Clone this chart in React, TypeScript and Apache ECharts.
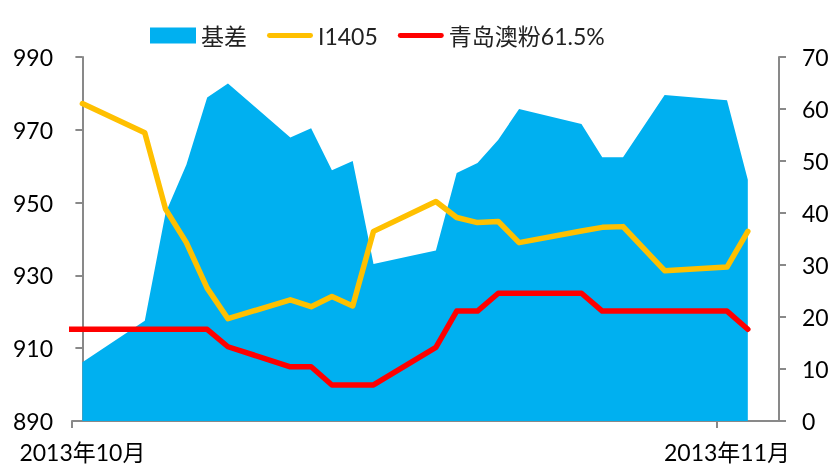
import React, { useEffect, useRef } from "react";
import * as echarts from "echarts";

// ---- data ----
const baseDate = "2013-10-18";
const dates = [
  "2013-10-18", "2013-10-21", "2013-10-22", "2013-10-23", "2013-10-24", "2013-10-25",
  "2013-10-28", "2013-10-29", "2013-10-30", "2013-10-31", "2013-11-01",
  "2013-11-04", "2013-11-05", "2013-11-06", "2013-11-07", "2013-11-08",
  "2013-11-11", "2013-11-12", "2013-11-13", "2013-11-15",
  "2013-11-18", "2013-11-19",
];
const basis = [
  11.3, 19.3, 40.0, 49.3, 62.2, 64.9,
  54.5, 56.3, 48.2, 50.0, 30.2,
  32.8, 47.7, 49.6, 54.1, 60.0,
  57.1, 50.7, 50.7, 62.7,
  61.7, 46.4,
];
const i1405 = [
  977.2, 969.2, 948.2, 939.0, 926.5, 918.1,
  923.3, 921.4, 924.2, 921.6, 942.1,
  950.3, 945.9, 944.5, 944.8, 939.0,
  942.2, 943.2, 943.4, 931.3,
  932.3, 942.1,
];
const spotDates = ["2013-10-17", ...dates];
const qingdao = [
  915.2,
  915.2, 915.2, 915.2, 915.2, 915.2, 910.4,
  904.9, 904.9, 899.9, 899.9, 899.9,
  910.2, 920.2, 920.2, 925.1, 925.1,
  925.1, 920.2, 920.2, 920.2,
  920.2, 915.2,
];
const seriesNames = ["基差", "I1405", "青岛澳粉61.5%"];
const xLabelDates = ["2013-10-18", "2013-11-18"];
const xLabels = ["2013年10月", "2013年11月"];
const leftTicks = [890, 910, 930, 950, 970, 990];

function dayIndex(s: string): number {
  const [y, m, d] = s.split("-").map(Number);
  const [by, bm, bd] = baseDate.split("-").map(Number);
  return Math.round((Date.UTC(y, m - 1, d) - Date.UTC(by, bm - 1, bd)) / 86400000);
}

const FONT = 'Lato, "Noto Sans CJK SC", sans-serif';
const AXIS_COLOR = "#898989";
const FS = 23;

export default function App() {
  const ref = useRef<HTMLDivElement>(null);
  useEffect(() => {
    if (!ref.current) return;
    const chart = echarts.init(ref.current, null, { renderer: "svg" });
    const labelDays = xLabelDates.map(dayIndex);
    const tickDays = labelDays.map((d) => d - 0.5);
    const lineIcon =
      "path://M2.5,0H45.5A2.5,2.5,0,0,1,45.5,5H2.5A2.5,2.5,0,0,1,2.5,0Z";
    chart.setOption({
      animation: false,
      textStyle: { fontFamily: FONT },
      legend: {
        left: 145,
        top: 19,
        itemWidth: 46,
        itemHeight: 16,
        itemGap: 20,
        textStyle: { fontSize: FS, color: "#222", fontFamily: FONT },
        data: [
          { name: seriesNames[0], icon: "rect" },
          { name: seriesNames[1], icon: lineIcon },
          { name: seriesNames[2], icon: lineIcon },
        ],
      },
      grid: { left: 72, right: 53, top: 57, bottom: 47, outerBoundsMode: "none" },
      xAxis: {
        type: "value",
        min: -0.5,
        max: 33.5,
        splitLine: { show: false },
        axisLine: { show: true, lineStyle: { color: AXIS_COLOR, width: 2 } },
        axisTick: {
          show: true,
          length: 7,
          customValues: tickDays,
          lineStyle: { color: AXIS_COLOR, width: 2 },
        },
        axisLabel: {
          customValues: labelDays,
          margin: 19,
          fontSize: FS,
          color: "#000",
          fontFamily: FONT,
          formatter: (v: number) => {
            const i = labelDays.indexOf(Math.round(v));
            return i >= 0 ? xLabels[i] : "";
          },
        },
      },
      yAxis: [
        {
          type: "value",
          position: "left",
          min: 890,
          max: 990,
          splitLine: { show: false },
          axisLine: { show: true, lineStyle: { color: AXIS_COLOR, width: 2 } },
          axisTick: {
            show: true,
            length: 7,
            customValues: leftTicks,
            lineStyle: { color: AXIS_COLOR, width: 2 },
          },
          axisLabel: {
            customValues: leftTicks,
            margin: 19,
            fontSize: FS,
            color: "#000",
            fontFamily: FONT,
          },
        },
        {
          type: "value",
          position: "right",
          min: 0,
          max: 70,
          interval: 10,
          splitLine: { show: false },
          axisLine: { show: true, lineStyle: { color: AXIS_COLOR, width: 2 } },
          axisTick: { show: true, length: 7, lineStyle: { color: AXIS_COLOR, width: 2 } },
          axisLabel: { margin: 23, fontSize: FS, color: "#000", fontFamily: FONT },
        },
      ],
      series: [
        {
          name: seriesNames[0],
          type: "line",
          yAxisIndex: 1,
          color: "#00B0F0",
          symbol: "none",
          lineStyle: { width: 0 },
          areaStyle: { color: "#00B0F0", opacity: 1 },
          data: dates.map((d, i) => [dayIndex(d), basis[i]]),
          z: 1,
        },
        {
          name: seriesNames[1],
          type: "line",
          yAxisIndex: 0,
          color: "#FFC000",
          symbol: "none",
          lineStyle: { width: 5.5, color: "#FFC000", cap: "round", join: "round" },
          data: dates.map((d, i) => [dayIndex(d), i1405[i]]),
          z: 2,
        },
        {
          name: seriesNames[2],
          type: "line",
          yAxisIndex: 0,
          color: "#FF0000",
          symbol: "none",
          clip: true,
          lineStyle: { width: 5.5, color: "#FF0000", cap: "round", join: "round" },
          data: spotDates.map((d, i) => [dayIndex(d), qingdao[i]]),
          z: 3,
        },
      ],
    });
    return () => chart.dispose();
  }, []);
  return (
    <div
      ref={ref}
      style={{ position: "fixed", left: 0, top: 0, width: 832, height: 468 }}
    />
  );
}
